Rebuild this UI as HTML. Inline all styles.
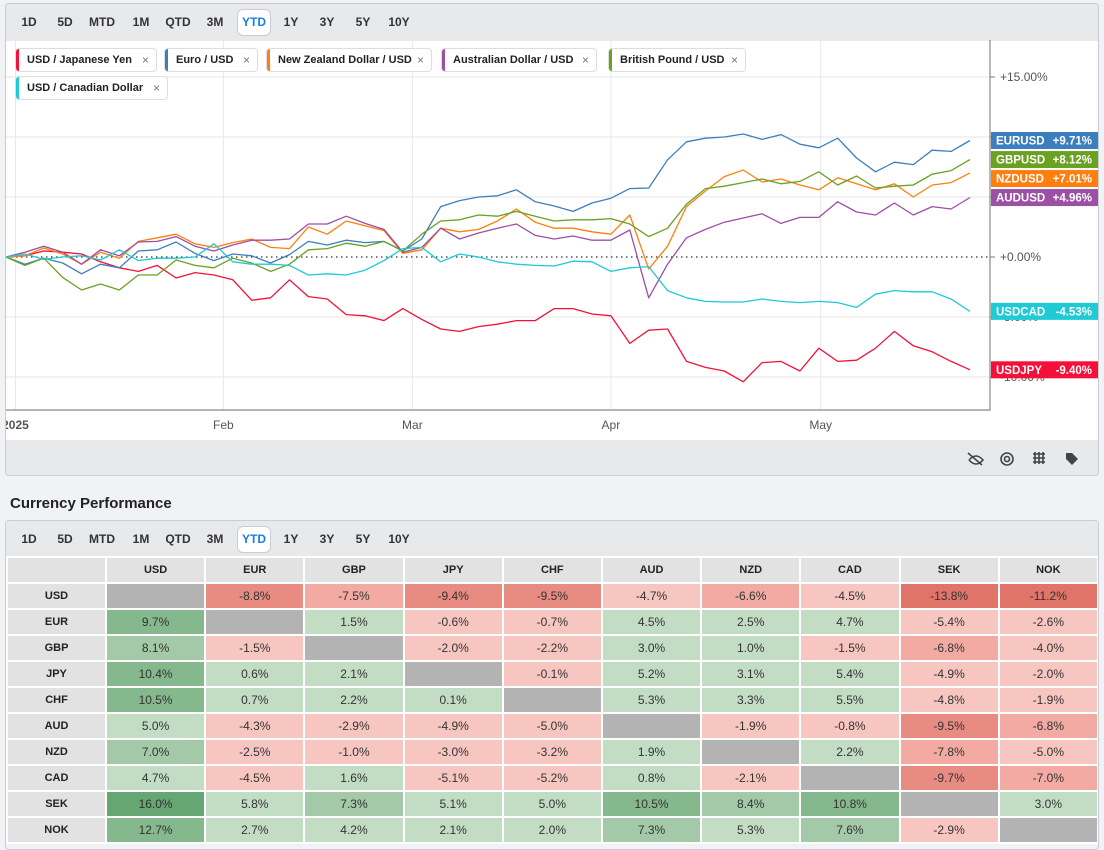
<!DOCTYPE html>
<html><head><meta charset="utf-8">
<style>
*{box-sizing:border-box;margin:0;padding:0}
body{width:1104px;height:850px;background:#f1f2f5;font-family:"Liberation Sans",sans-serif;position:relative;overflow:hidden;color:#222}
.panel{position:absolute;left:5px;width:1094px;border:1px solid #c9ccd2;border-radius:4px;background:#fff;overflow:hidden}
.tb{position:absolute;left:0;right:0;height:37px;background:#e8e9eb}
.btn{position:absolute;top:5px;height:27px;line-height:27px;font-size:12px;font-weight:bold;color:#333;text-align:center;width:34px}
.btn.act{background:#fff;border:1px solid #c9ccd2;border-radius:6px;color:#1a7cf0;line-height:25px}
.chip{position:absolute;height:24px;border:1px solid #dcdde0;border-radius:4px;background:#fff;font-size:11px;font-weight:bold;line-height:22px;padding-left:11px;color:#222;white-space:nowrap;overflow:hidden}
.chip i{position:absolute;left:-1px;top:-1px;bottom:-1px;width:4px;border-radius:4px 0 0 4px}
.chip b{position:absolute;right:7px;top:0;font-weight:normal;color:#777;font-size:12px}
table{position:absolute;left:0;top:35px;border-collapse:collapse;width:1093px;table-layout:fixed}
td{height:26px;border:2px solid #fff;text-align:center;font-size:12px;color:#333;padding:0}
td.h{background:#e2e2e2;font-weight:bold;font-size:11px;color:#222}
</style></head><body>
<div class="panel" style="top:3px;height:473px">
 <div class="tb" style="top:0">
  <div class="btn" style="left:6px">1D</div>
  <div class="btn" style="left:42px">5D</div>
  <div class="btn" style="left:79px">MTD</div>
  <div class="btn" style="left:118px">1M</div>
  <div class="btn" style="left:155px">QTD</div>
  <div class="btn" style="left:192px">3M</div>
  <div class="btn act" style="left:231px">YTD</div>
  <div class="btn" style="left:268px">1Y</div>
  <div class="btn" style="left:304px">3Y</div>
  <div class="btn" style="left:340px">5Y</div>
  <div class="btn" style="left:376px">10Y</div>
 </div>
 <svg id="chart" width="1104" height="440" style="position:absolute;left:-6px;top:-4px" xmlns="http://www.w3.org/2000/svg"></svg>
 <div class="chip" style="left:9px;top:44px;width:142px"><i style="background:#f5103a"></i>USD / Japanese Yen<b>×</b></div>
 <div class="chip" style="left:158px;top:44px;width:94px"><i style="background:#3d7ebf"></i>Euro / USD<b>×</b></div>
 <div class="chip" style="left:260px;top:44px;width:166px"><i style="background:#ff7f0e"></i>New Zealand Dollar / USD<b>×</b></div>
 <div class="chip" style="left:435px;top:44px;width:156px"><i style="background:#9b4fa5"></i>Australian Dollar / USD<b>×</b></div>
 <div class="chip" style="left:602px;top:44px;width:138px"><i style="background:#6aa121"></i>British Pound / USD<b>×</b></div>
 <div class="chip" style="left:9px;top:72px;width:153px"><i style="background:#1ecad3"></i>USD / Canadian Dollar<b>×</b></div>
 <div class="tb" style="top:436px">
  <svg width="1094" height="37" xmlns="http://www.w3.org/2000/svg">
   <g stroke="#444" stroke-width="1.6" fill="none"><path d="M962 13 L976 25 M963 20 q7 -8 14 0 q-7 8 -14 0"/></g>
   <g stroke="#444" stroke-width="1.6" fill="none"><circle cx="1001" cy="19" r="6"/><circle cx="1001" cy="19" r="2.5"/></g>
   <g stroke="#444" stroke-width="1.6"><path d="M1027 14h12M1027 18h12M1027 22h12M1029 12v12M1033 12v12M1037 12v12"/></g>
   <g fill="#444"><path d="M1060 13h6l6 6-6 6-6-6z"/></g>
  </svg>
 </div>
</div>
<div style="position:absolute;left:10px;top:495px;font-size:15px;font-weight:bold;color:#222">Currency Performance</div>
<div class="panel" style="top:520px;height:330px;background:#f1f2f5">
 <div class="tb" style="top:0;height:36px">
  <div class="btn" style="left:6px">1D</div>
  <div class="btn" style="left:42px">5D</div>
  <div class="btn" style="left:79px">MTD</div>
  <div class="btn" style="left:118px">1M</div>
  <div class="btn" style="left:155px">QTD</div>
  <div class="btn" style="left:192px">3M</div>
  <div class="btn act" style="left:231px">YTD</div>
  <div class="btn" style="left:268px">1Y</div>
  <div class="btn" style="left:304px">3Y</div>
  <div class="btn" style="left:340px">5Y</div>
  <div class="btn" style="left:376px">10Y</div>
 </div>
 <table id="perf"></table>
</div>
<script>
const NS="http://www.w3.org/2000/svg";
const monthLabels=["2025","Feb","Mar","Apr","May"];
const monthPos=[0.5,11.5,21.5,32.0,43.1];
const yTicks=[15,10,5,0,-5,-10];
const seriesNames=["USDJPY","EURUSD","NZDUSD","AUDUSD","GBPUSD","USDCAD"];
const seriesColors=["#f5103a","#3d7ebf","#ff7f0e","#9b4fa5","#6aa121","#1ecad3"];
const usdjpy=[0,0.1,0.5,0.4,0.25,-0.4,-0.9,-1.2,-0.7,-1.75,-1.3,-1.5,-1.9,-3.6,-3.4,-1.9,-3.3,-3.5,-4.8,-4.9,-5.3,-4.3,-5.2,-6.0,-6.2,-5.8,-5.6,-5.3,-5.3,-4.3,-4.3,-4.75,-4.9,-7.2,-6.1,-6.0,-8.7,-9.2,-9.5,-10.4,-8.8,-8.7,-9.5,-7.6,-8.7,-8.6,-7.6,-6.2,-7.4,-7.9,-8.7,-9.4];
const eurusd=[0,-0.6,-0.1,-0.5,-1.4,-0.6,-0.9,0.5,0.6,1.25,0.3,-0.3,0.25,0.1,-0.5,0.2,1.3,1.0,1.4,1.2,1.3,0.5,1.5,4.2,4.7,5.0,5.1,5.6,4.6,4.25,3.8,4.5,4.9,5.7,5.75,8.1,9.6,9.9,10.0,10.25,9.8,10.2,9.4,9.1,9.9,8.25,7.1,7.9,7.7,8.9,8.8,9.71];
const nzdusd=[0,0.1,0.75,0.25,-0.6,0.4,-0.1,1.3,1.6,1.9,1.1,0.8,1.2,1.5,0.8,0.7,2.5,1.9,3.0,2.6,2.2,0.3,0.6,2.4,2.1,2.3,3.0,4.0,2.9,2.4,2.4,2.1,1.9,3.5,-1.0,0.9,4.2,5.5,6.7,7.25,6.25,6.5,6.0,5.6,6.6,6.1,5.6,6.1,5.0,6.0,6.2,7.01];
const audusd=[0,0.4,0.9,0.4,-0.6,0.6,0.1,1.25,1.3,1.7,0.9,0.5,1.0,1.4,1.4,1.5,2.75,2.75,3.4,2.8,2.3,0.4,0.8,2.4,1.5,2.0,2.4,2.75,1.8,1.5,1.75,1.4,1.4,2.25,-3.4,-0.6,1.6,2.3,2.9,3.25,3.6,2.8,3.3,3.3,4.6,3.75,3.5,4.5,3.5,4.2,4.0,4.96];
const gbpusd=[0,-0.7,-0.1,-1.7,-2.75,-2.25,-2.75,-1.5,-1.5,-0.25,-0.7,-0.9,-0.1,-0.5,-1.2,-0.6,0.6,0.7,1.15,0.9,1.3,0.5,1.9,3.0,3.1,3.5,3.4,3.8,3.4,3.0,3.1,3.1,3.2,2.75,1.7,2.4,4.4,5.7,5.9,6.2,6.5,6.1,6.3,7.1,6.0,6.75,5.75,5.9,6.0,6.9,7.2,8.12];
const usdcad=[0,0.25,-0.2,0.0,0.1,-0.25,0.6,-0.3,-0.1,-0.1,0.0,1.1,-0.4,-0.6,-0.6,-0.7,-1.5,-1.4,-1.5,-1.1,-0.3,0.7,0.8,-0.4,0.25,0.0,-0.4,-0.6,-0.7,-0.75,-0.35,-0.4,-1.2,-0.9,-0.8,-2.8,-3.4,-3.7,-3.75,-3.75,-3.5,-3.7,-3.8,-3.7,-3.8,-4.2,-3.1,-2.8,-2.9,-2.9,-3.5,-4.53];
const allSeries=[usdjpy,eurusd,nzdusd,audusd,gbpusd,usdcad];

const svg=document.getElementById('chart');
const X0=6,X1=970,PL=6,PR=990,PT=40,PB=410;
const nPts=usdjpy.length;
function xS(i){return X0+i*(X1-X0)/(nPts-1);}
function yS(v){return 257-v*12;}
function mk(tag,attrs){const e=document.createElementNS(NS,tag);for(const k in attrs)e.setAttribute(k,attrs[k]);svg.appendChild(e);return e;}

yTicks.forEach(t=>{
  const g=mk('line',{x1:PL,x2:PR,y1:yS(t),y2:yS(t),stroke:t===0?'none':'#e6e6e6','stroke-width':1});
  
  
  const tk=mk('line',{x1:PR,x2:PR+5,y1:yS(t),y2:yS(t),stroke:'#777'});
  
  
  const tx=mk('text',{x:PR+10,y:yS(t)+4,'font-size':12,fill:'#555','font-family':'Liberation Sans, sans-serif'});
  tx.textContent=(t>=0?'+':'')+t.toFixed(2)+'%';
  
  
});
monthLabels.forEach((m,k)=>{
  const x=xS(monthPos[k]);
  const l=mk('line',{x1:x,x2:x,y1:PT,y2:PB,stroke:'#e8e8e8'});
  
  
  const t=mk('text',{x:x,y:PB+19,'font-size':12,fill:'#555','text-anchor':'middle','font-family':'Liberation Sans, sans-serif','font-weight':k===0?'bold':'normal'});
  t.textContent=m;
  
  
});
const zl=mk('line',{x1:PL,x2:PR,y1:yS(0),y2:yS(0),stroke:'#333','stroke-dasharray':'1.5,3.5','stroke-width':1.3});


const ax=mk('path',{d:`M${PR} ${PT} V${PB} H${PL}`,stroke:'#888',fill:'none','stroke-width':1.2});



allSeries.forEach((s,k)=>{
  const d=s.map((v,i)=>(i?'L':'M')+xS(i).toFixed(1)+' '+yS(v).toFixed(1)).join(' ');
  const p=mk('path',{d:d,stroke:seriesColors[k],fill:'none','stroke-width':1.3,'stroke-linejoin':'round'});
  
  
});
const badges=allSeries.map((s,k)=>({k:k,v:s[s.length-1],y:yS(s[s.length-1])})).sort((a,b)=>a.y-b.y);
for(let i=1;i<badges.length;i++){if(badges[i].y-badges[i-1].y<19)badges[i].y=badges[i-1].y+19;}
badges.forEach(b=>{
  const r=mk('rect',{x:PR+1,y:b.y-8.5,width:107,height:17,fill:seriesColors[b.k]});
  
  
  const t1=mk('text',{x:PR+6,y:b.y+4,'font-size':11.5,'font-weight':'bold',fill:'#fff','font-family':'Liberation Sans, sans-serif'});
  t1.textContent=seriesNames[b.k];
  
  
  const t2=mk('text',{x:PR+102,y:b.y+4,'font-size':11.5,'font-weight':'bold',fill:'#fff','text-anchor':'end','font-family':'Liberation Sans, sans-serif'});
  t2.textContent=(b.v>=0?'+':'')+b.v.toFixed(2)+'%';
  
  
});

const ccys=["USD","EUR","GBP","JPY","CHF","AUD","NZD","CAD","SEK","NOK"];
const perf=[
[null,-8.8,-7.5,-9.4,-9.5,-4.7,-6.6,-4.5,-13.8,-11.2],
[9.7,null,1.5,-0.6,-0.7,4.5,2.5,4.7,-5.4,-2.6],
[8.1,-1.5,null,-2.0,-2.2,3.0,1.0,-1.5,-6.8,-4.0],
[10.4,0.6,2.1,null,-0.1,5.2,3.1,5.4,-4.9,-2.0],
[10.5,0.7,2.2,0.1,null,5.3,3.3,5.5,-4.8,-1.9],
[5.0,-4.3,-2.9,-4.9,-5.0,null,-1.9,-0.8,-9.5,-6.8],
[7.0,-2.5,-1.0,-3.0,-3.2,1.9,null,2.2,-7.8,-5.0],
[4.7,-4.5,1.6,-5.1,-5.2,0.8,-2.1,null,-9.7,-7.0],
[16.0,5.8,7.3,5.1,5.0,10.5,8.4,10.8,null,3.0],
[12.7,2.7,4.2,2.1,2.0,7.3,5.3,7.6,-2.9,null]];
function col(v){
  if(v===null)return '#b3b3b3';
  const a=Math.abs(v);
  if(v>=0)return a<6?'#c3ddc5':a<8.6?'#a3c9a8':a<15?'#85b98d':'#66a673';
  return a<6?'#f8c6c0':a<8.6?'#f2aaa2':a<11?'#e88b80':'#e07468';
}
const tb=document.getElementById('perf');
const hr=document.createElement('tr');


const c0=document.createElement('td');c0.className='h';c0.style.width='99px';hr.appendChild(c0);


ccys.forEach(c=>{const td=document.createElement('td');td.className='h';td.textContent=c;
  
  
  hr.appendChild(td);});
tb.appendChild(hr);
perf.forEach((row,r)=>{
  const tr=document.createElement('tr');
  
  
  const th=document.createElement('td');th.className='h';th.textContent=ccys[r];
  
  
  tr.appendChild(th);
  row.forEach(v=>{const td=document.createElement('td');td.style.background=col(v);
    td.textContent=v===null?'':v.toFixed(1)+'%';
    
    
    tr.appendChild(td);});
  tb.appendChild(tr);
});
</script>
</body></html>
